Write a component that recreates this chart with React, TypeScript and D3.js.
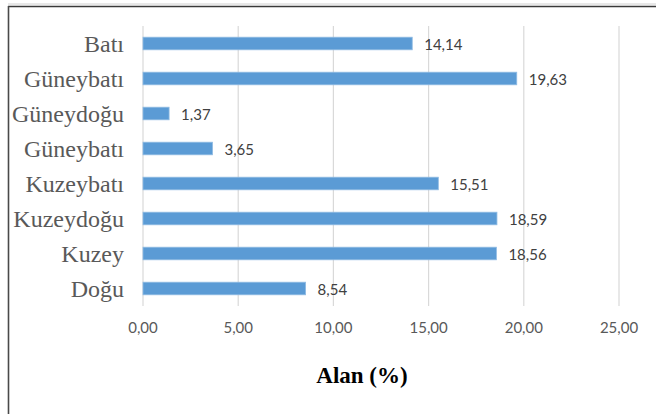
import React from "react";
import * as d3 from "d3";

// Direction categories (top to bottom) and their area share in percent
const categories: string[] = [
  "Batı",
  "Güneybatı",
  "Güneydoğu",
  "Güneybatı",
  "Kuzeybatı",
  "Kuzeydoğu",
  "Kuzey",
  "Doğu",
];
const values: number[] = [14.14, 19.63, 1.37, 3.65, 15.51, 18.59, 18.56, 8.54];
const xTicks: number[] = [0, 5, 10, 15, 20, 25];
const axisTitle = "Alan (%)";

const W = 656;
const H = 414;

const fmt = (v: number) => v.toFixed(2).replace(".", ",");

export default function App() {
  const x = d3.scaleLinear().domain([0, 25]).range([143, 619]);
  const y = d3
    .scaleBand<number>()
    .domain(categories.map((_, i) => i))
    .range([26, 306])
    .paddingInner(0.64)
    .paddingOuter(0.32);

  const [gTop, gBottom] = y.range();

  return (
    <svg
      width={W}
      height={H}
      style={{ position: "absolute", left: 0, top: 0, background: "#fff" }}
    >
      {/* frame */}
      <line x1={8} x2={W} y1={4} y2={4} stroke="#d0d0d0" strokeWidth={1} />
      <line x1={8} x2={W} y1={6.5} y2={6.5} stroke="#3a3a3a" strokeWidth={1.6} />
      <line x1={8.5} x2={8.5} y1={6} y2={H} stroke="#4a4a4a" strokeWidth={1.6} />

      {/* vertical gridlines */}
      {xTicks.map((t) => (
        <line
          key={"g" + t}
          x1={x(t)}
          x2={x(t)}
          y1={gTop}
          y2={gBottom}
          stroke="#d9d9d9"
          strokeWidth={1.2}
        />
      ))}

      {/* bars */}
      {values.map((v, i) => (
        <rect
          key={"b" + i}
          x={x(0)}
          y={y(i)!}
          width={x(v) - x(0)}
          height={y.bandwidth()}
          fill="#5b9bd5"
          stroke="#8fbbe3"
          strokeWidth={0.8}
        />
      ))}

      {/* value labels */}
      {values.map((v, i) => (
        <text
          key={"v" + i}
          x={x(v) + 12}
          y={y(i)! + y.bandwidth() / 2}
          dominantBaseline="central"
          fontFamily="Lato, 'Open Sans', sans-serif"
          fontSize={15}
          fill="#404040"
        >
          {fmt(v)}
        </text>
      ))}

      {/* category labels */}
      {categories.map((c, i) => (
        <text
          key={"c" + i}
          x={124}
          y={y(i)! + y.bandwidth() / 2}
          dominantBaseline="central"
          textAnchor="end"
          fontFamily="'Liberation Serif', 'DejaVu Serif', serif"
          fontSize={24}
          fill="#595959"
        >
          {c}
        </text>
      ))}

      {/* x tick labels */}
      {xTicks.map((t) => (
        <text
          key={"t" + t}
          x={x(t)}
          y={327}
          dominantBaseline="central"
          textAnchor="middle"
          fontFamily="Lato, 'Open Sans', sans-serif"
          fontSize={15}
          fill="#595959"
        >
          {fmt(t)}
        </text>
      ))}

      {/* axis title */}
      <text
        x={362}
        y={375}
        dominantBaseline="central"
        textAnchor="middle"
        fontFamily="'Liberation Serif', 'DejaVu Serif', serif"
        fontWeight="bold"
        fontSize={23}
        fill="#000"
      >
        {axisTitle}
      </text>
    </svg>
  );
}
